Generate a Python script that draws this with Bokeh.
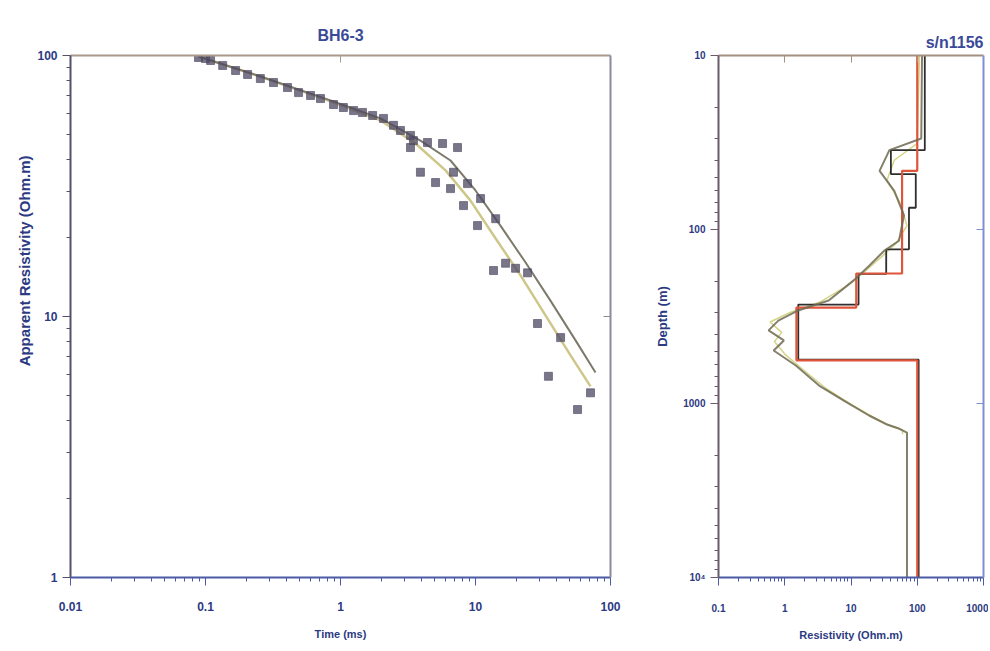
import math
from bokeh.plotting import figure
from bokeh.layouts import row
from bokeh.models import LogAxis, FixedTicker, Range1d, Title
from bokeh.embed import file_html
from bokeh.resources import INLINE

FONT = "Liberation Sans"
NAVY = "#2c3a82"
TITLE_BLUE = "#3b4a98"

# ---------------- left panel: TEM sounding BH6-3 ----------------
obs_time = [0.0887, 0.1, 0.109, 0.134, 0.167, 0.205, 0.255, 0.319, 0.405, 0.489,
            0.60, 0.711, 0.888, 1.05, 1.25, 1.455, 1.73, 2.08, 2.47, 2.78,
            3.30, 3.30, 3.47, 3.91, 4.41, 5.06, 5.70, 6.53, 6.87, 7.36,
            8.15, 8.73, 10.35, 10.9, 13.6, 14.1, 16.7, 19.8, 24.3, 28.8,
            34.7, 42.7, 57.0, 71.1]
obs_rho = [98.3, 97.4, 95.7, 91.6, 87.6, 84.6, 81.6, 78.8, 75.4, 72.1,
           70.3, 68.4, 64.9, 63.2, 61.5, 60.5, 58.9, 57.4, 54.0, 51.6,
           49.4, 44.4, 47.2, 35.7, 46.4, 32.6, 46.0, 30.9, 35.7, 44.4,
           26.6, 32.3, 22.3, 28.3, 15.0, 23.7, 16.0, 15.3, 14.7, 9.4,
           5.9, 8.3, 4.4, 5.1]

fit_time_a = [0.0887, 0.255, 0.843, 1.98, 3.91, 6.53, 10.0, 15.3, 23.5, 35.9, 55.1, 77.4]
fit_rho_a = [99.1, 83.1, 67.3, 57.4, 47.2, 39.6, 30.4, 22.3, 16.1, 11.5, 8.1, 6.1]
fit_time_b = [0.0887, 0.255, 0.843, 1.98, 3.59, 6.0, 9.18, 14.1, 21.5, 33.0, 50.6, 71.1]
fit_rho_b = [99.1, 83.1, 66.7, 56.4, 46.0, 36.3, 27.8, 19.9, 14.4, 10.1, 7.1, 5.4]

left_xticks = [0.01, 0.1, 1, 10, 100]
left_xlabels = ["0.01", "0.1", "1", "10", "100"]
left_yticks = [1, 10, 100]
left_ylabels = ["1", "10", "100"]

# ---------------- right panel: inversion models s/n1156 ----------------
red_layer_rho = [100, 59, 12, 1.5, 100]
red_layer_bottom = [46, 179, 281, 565]
black_layer_rho = [130, 40, 95, 75, 34, 13, 1.6, 105]
black_layer_bottom = [35, 48, 75, 130, 180, 270, 560]

smooth_depth_a = [10, 30, 35, 46, 60, 83, 116, 132, 161, 196, 256, 292, 334, 380,
                  434, 496, 605, 789, 962, 1172, 1321, 1393, 1469, 10000]
smooth_rho_a = [118, 115, 38, 27, 45, 63, 53, 32, 19, 11, 4.6, 1.6, 0.8, 0.57,
                0.97, 0.68, 1.47, 3.3, 7.8, 18.7, 35, 53, 70, 70]
smooth_depth_b = [10, 32, 40, 52, 70, 95, 120, 145, 175, 215, 260, 300, 340, 390,
                  440, 520, 640, 820, 1000, 1200, 1350, 1420, 1500]
smooth_rho_b = [108, 100, 45, 35, 55, 70, 48, 28, 16, 8, 3.5, 1.2, 0.6, 0.9,
                0.7, 1.0, 1.9, 4.2, 9.5, 22, 40, 60, 60]

right_xticks = [0.1, 1, 10, 100, 1000]
right_xlabels = ["0.1", "1", "10", "100", "1000"]
right_yticks = [10, 100, 1000, 10000]
right_ylabels = ["10", "100", "1000", "10\u2074"]


def minors(lo, hi):
    return [m * 10 ** e for e in range(lo, hi) for m in range(2, 10)]


def steps(rhos, bottoms, top, base):
    edges = [top] + list(bottoms) + [base]
    xs, ys = [], []
    for i, r in enumerate(rhos):
        xs += [r, r]
        ys += [edges[i], edges[i + 1]]
    return xs, ys


def style_axis(ax, ticks, labels, minor, color, lab_size):
    ax.ticker = FixedTicker(ticks=ticks, minor_ticks=minor)
    ax.major_label_overrides = {t: l for t, l in zip(ticks, labels)}
    ax.axis_line_color = color
    ax.axis_line_width = 2
    ax.major_tick_line_color = color
    ax.minor_tick_line_color = color
    ax.major_tick_out = 8
    ax.major_tick_in = 0
    ax.minor_tick_out = 4
    ax.minor_tick_in = 0
    ax.major_label_text_font = FONT
    ax.major_label_text_font_style = "bold"
    ax.major_label_text_font_size = lab_size
    ax.major_label_text_color = NAVY
    ax.axis_label_text_font = FONT
    ax.axis_label_text_font_style = "bold"
    ax.axis_label_text_font_size = "11px"
    ax.axis_label_text_color = NAVY


def frame_axis(p, side, ticks, color, gap=0):
    ax = LogAxis(ticker=FixedTicker(ticks=ticks, minor_ticks=[]))
    ax.major_label_text_alpha = 0
    ax.major_label_text_font_size = "8px"
    ax.major_label_standoff = gap
    ax.axis_line_color = color
    ax.axis_line_width = 2
    ax.major_tick_line_color = color
    ax.major_tick_in = 7
    ax.major_tick_out = 0
    p.add_layout(ax, side)
    return ax


# ---------------- figure 1 ----------------
p1 = figure(width=638, height=645, x_axis_type="log", y_axis_type="log",
            x_range=Range1d(0.01, 100), y_range=Range1d(1, 100),
            output_backend="svg", toolbar_location=None,
            min_border_left=70, min_border_right=28, min_border_top=55, min_border_bottom=68)
p1.outline_line_color = None
p1.xgrid.visible = False
p1.ygrid.visible = False
p1.background_fill_color = "white"

style_axis(p1.xaxis[0], left_xticks, left_xlabels, minors(-2, 2), "#4a5aa5", "12px")
style_axis(p1.yaxis[0], left_yticks, left_ylabels, minors(0, 2), "#55506a", "12px")
p1.xaxis[0].major_label_standoff = 16
p1.xaxis[0].axis_label = "Time (ms)"
p1.xaxis[0].axis_label_standoff = 14
top1 = frame_axis(p1, "above", [1], "#a89a8a")
# panel title drawn as the label of the top frame axis (centred over the frame)
top1.axis_label = "BH6-3"
top1.axis_label_text_font = FONT
top1.axis_label_text_font_size = "16px"
top1.axis_label_text_font_style = "bold"
top1.axis_label_text_color = TITLE_BLUE
top1.axis_label_standoff = 12
frame_axis(p1, "right", [10], "#8a8a9a")

p1.line(fit_time_b, fit_rho_b, line_color="#cfc68a", line_width=2.5)
p1.line(fit_time_a, fit_rho_a, line_color="#7d7a6c", line_width=2)
p1.scatter(obs_time, obs_rho, marker="square", size=8, fill_color="#4d4862",
           line_color="#4d4862", fill_alpha=0.75, line_alpha=0.6)

p1.add_layout(Title(text="Apparent Resistivity (Ohm.m)", align="right", offset=100,
                    text_font=FONT, text_font_size="15px", text_font_style="bold",
                    text_color=NAVY, standoff=4), "left")

# ---------------- figure 2 ----------------
p2 = figure(width=350, height=645, x_axis_type="log", y_axis_type="log",
            x_range=Range1d(0.1, 1000), y_range=Range1d(10000, 10),
            output_backend="svg", toolbar_location=None,
            min_border_left=80, min_border_right=5, min_border_top=55, min_border_bottom=68)
p2.outline_line_color = None
p2.xgrid.visible = False
p2.ygrid.visible = False
p2.title.text = "s/n1156"
p2.title.align = "right"
p2.title.text_font = FONT
p2.title.text_font_size = "16px"
p2.title.text_color = TITLE_BLUE
p2.title.text_font_style = "bold"

style_axis(p2.xaxis[0], right_xticks, right_xlabels, minors(-1, 3), "#4a5aa5", "10px")
style_axis(p2.yaxis[0], right_yticks, right_ylabels, minors(1, 4), "#6a5a6a", "10px")
p2.xaxis[0].major_label_standoff = 18
p2.xaxis[0].axis_label = "Resistivity (Ohm.m)"
p2.xaxis[0].axis_label_standoff = 14
p2.yaxis[0].axis_label = "Depth (m)"
p2.yaxis[0].axis_label_text_font_size = "13px"
p2.yaxis[0].axis_label_standoff = 10
frame_axis(p2, "above", [1, 10, 100], "#a59080", gap=12)
frame_axis(p2, "right", [100, 1000], "#7f8fd0")

bx, by = steps(black_layer_rho, black_layer_bottom, 10, 10000)
rx, ry = steps(red_layer_rho, red_layer_bottom, 10, 10000)
p2.line(smooth_rho_b, smooth_depth_b, line_color="#cfcf7a", line_width=1.5, line_alpha=0.9)
p2.line(bx, by, line_color="#2e2e2e", line_width=1.8)
p2.line(rx, ry, line_color="#e0553a", line_width=2.2)
p2.line(smooth_rho_a, smooth_depth_a, line_color="#6e6a52", line_width=2, line_alpha=0.85)

layout = row(p1, p2)
open("out.html", "w").write(file_html(layout, INLINE))
